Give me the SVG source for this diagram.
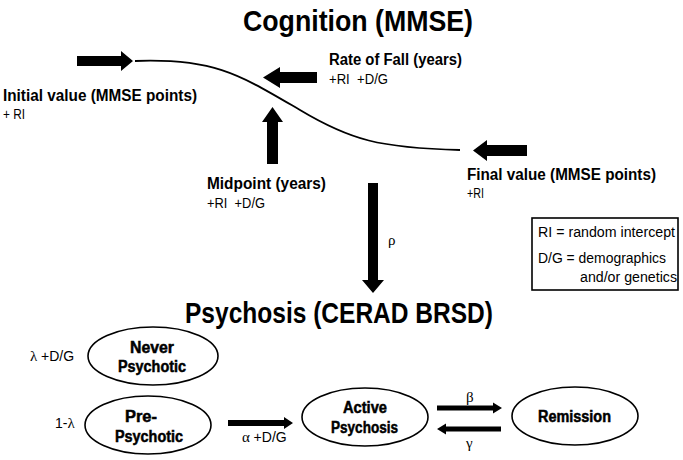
<svg xmlns="http://www.w3.org/2000/svg" width="683" height="460" viewBox="0 0 683 460">
<style>
text{font-family:"Liberation Sans",Arial,sans-serif;fill:#000}
.title{font-size:30px;font-weight:bold}
.lbl{font-size:16px;font-weight:bold}
.sub{font-size:14px}
.leg{font-size:14px}
.node{font-size:16px;font-weight:bold;stroke:#000;stroke-width:0.5}
.greek{font-family:"Liberation Serif","DejaVu Serif",serif;font-size:15px}
.ell{fill:#fff;stroke:#000;stroke-width:1.6}
.arr{fill:#000;stroke:none}
</style>
<rect width="683" height="460" fill="#fff"/>

<g id="title-cognition">
<text class="title" x="243" y="31" textLength="230" lengthAdjust="spacingAndGlyphs">Cognition (MMSE)</text>
</g>

<g id="curve">
<path d="M135,61 C215,58 240,75 300,110 C350,140 380,148 460,150" fill="none" stroke="#000" stroke-width="1.8"/>
</g>

<g id="initial-value">
<text class="lbl" x="3" y="101" textLength="194" lengthAdjust="spacingAndGlyphs">Initial value (MMSE points)</text>
<text class="sub" x="3" y="119" textLength="22" lengthAdjust="spacingAndGlyphs">+ RI</text>
</g>

<g id="rate-of-fall">
<text class="lbl" x="329" y="65" textLength="133" lengthAdjust="spacingAndGlyphs">Rate of Fall (years)</text>
<text class="sub" x="329" y="84" textLength="59" lengthAdjust="spacingAndGlyphs" xml:space="preserve">+RI  +D/G</text>
</g>

<g id="midpoint">
<text class="lbl" x="207" y="189" textLength="119" lengthAdjust="spacingAndGlyphs">Midpoint (years)</text>
<text class="sub" x="207" y="208" textLength="58" lengthAdjust="spacingAndGlyphs" xml:space="preserve">+RI  +D/G</text>
</g>

<g id="final-value">
<text class="lbl" x="467" y="180" textLength="189" lengthAdjust="spacingAndGlyphs">Final value (MMSE points)</text>
<text class="sub" x="467" y="198" textLength="17" lengthAdjust="spacingAndGlyphs">+RI</text>
</g>

<g id="legend">
<rect x="532" y="218" width="146" height="72" fill="#fff" stroke="#000" stroke-width="1.6"/>
<text class="leg" x="538" y="237" textLength="137" lengthAdjust="spacingAndGlyphs">RI = random intercept</text>
<text class="leg" x="538" y="263" textLength="128" lengthAdjust="spacingAndGlyphs">D/G = demographics</text>
<text class="leg" x="580" y="282" textLength="97" lengthAdjust="spacingAndGlyphs">and/or genetics</text>
</g>

<g id="title-psychosis">
<text class="title" x="185" y="323" textLength="308" lengthAdjust="spacingAndGlyphs">Psychosis (CERAD BRSD)</text>
</g>

<g id="never-psychotic">
<ellipse class="ell" cx="153" cy="356" rx="65" ry="29"/>
<text class="node" x="130" y="353" textLength="44" lengthAdjust="spacingAndGlyphs">Never</text>
<text class="node" x="118" y="372" textLength="68" lengthAdjust="spacingAndGlyphs">Psychotic</text>
<text class="greek" x="30" y="361">λ <tspan font-family="Liberation Sans, Arial, sans-serif" font-size="14">+D/G</tspan></text>
</g>

<g id="pre-psychotic">
<ellipse class="ell" cx="148" cy="425" rx="63" ry="29"/>
<text class="node" x="125" y="422" textLength="32" lengthAdjust="spacingAndGlyphs">Pre-</text>
<text class="node" x="115" y="442" textLength="68" lengthAdjust="spacingAndGlyphs">Psychotic</text>
<text class="greek" x="55" y="428"><tspan font-family="Liberation Sans, Arial, sans-serif" font-size="14">1-</tspan>λ</text>
</g>

<g id="active-psychosis">
<ellipse class="ell" cx="365" cy="417" rx="63" ry="29"/>
<text class="node" x="343" y="413" textLength="44" lengthAdjust="spacingAndGlyphs">Active</text>
<text class="node" x="331" y="433" textLength="67" lengthAdjust="spacingAndGlyphs">Psychosis</text>
</g>

<g id="remission">
<ellipse class="ell" cx="575" cy="416" rx="63" ry="29"/>
<text class="node" x="538" y="422" textLength="73" lengthAdjust="spacingAndGlyphs">Remission</text>
</g>

<g id="connectors">
<polygon class="arr" points="77,56 121,56 121,51 133,61 121,71 121,66 77,66"/>
<polygon class="arr" points="317,72 280,72 280,67 263,77.5 280,88 280,83 317,83"/>
<polygon class="arr" points="267,164 267,122 262,122 272.5,107 283,122 278,122 278,164"/>
<polygon class="arr" points="527,145 487,145 487,140 473,150.5 487,161 487,156 527,156"/>
<polygon class="arr" points="368,183 378,183 378,280 384,280 373,293 362,280 368,280"/>
<text class="greek" x="388" y="245">ρ</text>
<polygon class="arr" points="228,420 284,420 284,417 293,423 284,429 284,426 228,426"/>
<text class="greek" x="242" y="442">α <tspan font-family="Liberation Sans, Arial, sans-serif" font-size="14">+D/G</tspan></text>
<polygon class="arr" points="437,405.5 493,405.5 493,402.5 502,408 493,413.5 493,410.5 437,410.5"/>
<text class="greek" x="466" y="402">β</text>
<polygon class="arr" points="501,426.5 446,426.5 446,423.5 437,429 446,434.5 446,431.5 501,431.5"/>
<text class="greek" x="466" y="448">γ</text>
</g>
</svg>
